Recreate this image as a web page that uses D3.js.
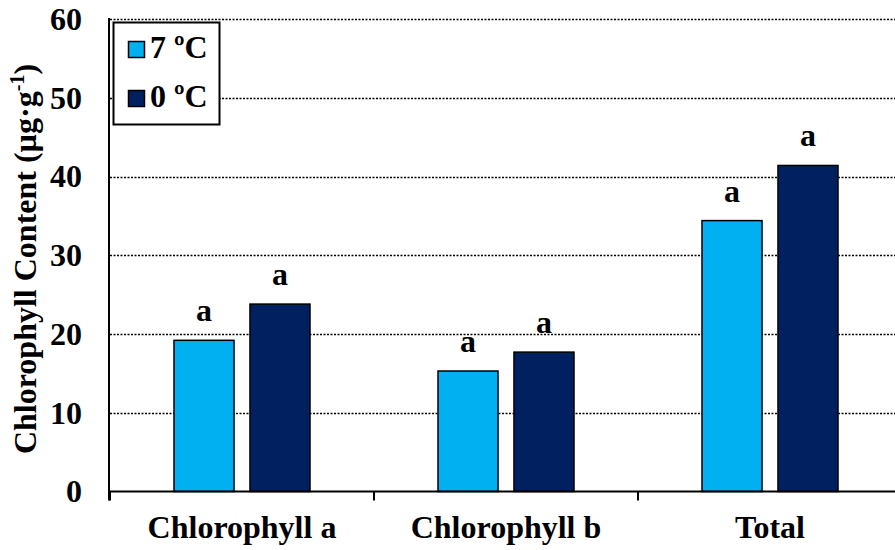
<!DOCTYPE html>
<html>
<head>
<meta charset="utf-8">
<script src="https://cdn.jsdelivr.net/npm/d3@7"></script>
<style>
  body { margin: 0; background: #fff; }
  svg { display: block; }
  text { font-family: "Liberation Serif", "Times New Roman", serif; font-weight: bold; }
</style>
</head>
<body>
<div id="chart"></div>
<script>
var categories = ['Chlorophyll a', 'Chlorophyll b', 'Total'];
var seriesNames = ['7 ºC', '0 ºC'];
var warm = [19.2, 15.3, 34.4];   // 7 ºC
var cold = [23.8, 17.7, 41.4];   // 0 ºC
var letters7 = ['a', 'a', 'a'];
var letters0 = ['a', 'a', 'a'];
var yTicks = [0, 10, 20, 30, 40, 50, 60];
var colors = ['#00B0F0', '#002060'];

var width = 895,
    height = 550;

// plot box (right edge runs past the picture, like the original)
var pLeft = 110, pRight = 902, pTop = 19, pBottom = 491.5;

var svg = d3.select('#chart').append('svg')
    .attr('width', width)
    .attr('height', height);

var x0 = d3.scaleBand()
    .domain(categories)
    .range([pLeft, pRight]);

var bw = x0.bandwidth();
var x1 = d3.scaleBand()
    .domain(seriesNames)
    .range([bw * 0.2424, bw * 0.7576])
    .paddingInner(0.21);

var y = d3.scaleLinear()
    .domain([0, 60])
    .range([pBottom, pTop]);

// dotted gridlines
svg.append('g')
    .selectAll('line')
    .data(yTicks.slice(1))
    .enter().append('line')
    .attr('x1', pLeft)
    .attr('x2', width)
    .attr('y1', function(d) { return Math.round(y(d)) + 0.5; })
    .attr('y2', function(d) { return Math.round(y(d)) + 0.5; })
    .attr('stroke', '#000')
    .attr('stroke-width', 1.6)
    .attr('stroke-dasharray', '2,1.5');

var rows = categories.map(function(c, i) {
  return [
    {cat: c, s: seriesNames[0], v: warm[i], l: letters7[i], c: colors[0]},
    {cat: c, s: seriesNames[1], v: cold[i], l: letters0[i], c: colors[1]}
  ];
});

var g = svg.selectAll('.grp')
    .data(rows)
    .enter().append('g')
    .attr('class', 'grp')
    .attr('transform', function(d) { return 'translate(' + x0(d[0].cat) + ',0)'; });

g.selectAll('rect')
    .data(function(d) { return d; })
    .enter().append('rect')
    .attr('x', function(d) { return x1(d.s); })
    .attr('y', function(d) { return y(d.v); })
    .attr('width', x1.bandwidth())
    .attr('height', function(d) { return y(0) - y(d.v); })
    .attr('fill', function(d) { return d.c; })
    .attr('stroke', '#000')
    .attr('stroke-width', 1.5);

g.selectAll('text')
    .data(function(d) { return d; })
    .enter().append('text')
    .attr('x', function(d) { return x1(d.s) + x1.bandwidth() / 2; })
    .attr('y', function(d) { return y(d.v) - 19; })
    .attr('text-anchor', 'middle')
    .style('font-size', '32px')
    .text(function(d) { return d.l; });

// x axis: baseline + category boundary ticks
var xg = svg.append('g')
    .attr('transform', 'translate(0,' + pBottom + ')');
xg.append('line')
    .attr('x1', pLeft - 1).attr('x2', width)
    .attr('stroke', '#000').attr('stroke-width', 2);
xg.selectAll('.bound')
    .data(categories)
    .enter().append('line')
    .attr('class', 'bound')
    .attr('x1', function(d) { return x0(d); })
    .attr('x2', function(d) { return x0(d); })
    .attr('y1', 0).attr('y2', 9)
    .attr('stroke', '#000').attr('stroke-width', 2);

svg.selectAll('.xlab')
    .data(categories)
    .enter().append('text')
    .attr('class', 'xlab')
    .attr('x', function(d) { return x0(d) + bw / 2; })
    .attr('y', 538)
    .attr('text-anchor', 'middle')
    .style('font-size', '32px')
    .text(function(d) { return d; });

var yAxis = d3.axisLeft(y)
    .tickValues(yTicks)
    .tickSize(0)
    .tickPadding(27);

var yg = svg.append('g')
    .attr('transform', 'translate(' + (pLeft - 1) + ',0)')
    .call(yAxis);
yg.select('.domain').remove();
yg.append('line')
    .attr('y1', pTop - 1).attr('y2', pBottom + 9)
    .attr('stroke', '#000').attr('stroke-width', 2);
yg.selectAll('.tick text')
    .style('font-size', '32px')
    .style('font-family', '"Liberation Serif", "Times New Roman", serif')
    .style('font-weight', 'bold')
    .attr('fill', '#000');

var title = svg.append('text')
    .attr('transform', 'translate(36,259) rotate(-90)')
    .attr('text-anchor', 'middle')
    .style('font-size', '32px');
title.append('tspan').text('Chlorophyll Content (µg·g');
title.append('tspan').attr('dy', -12).style('font-size', '20px').text('-1');
title.append('tspan').attr('dy', 12).text(')');

// legend
var lg = svg.append('g');
lg.append('rect')
    .attr('x', 113.5).attr('y', 22.5)
    .attr('width', 106).attr('height', 102)
    .attr('fill', '#fff')
    .attr('stroke', '#000').attr('stroke-width', 2);

var li = lg.selectAll('.li')
    .data(seriesNames)
    .enter().append('g')
    .attr('class', 'li')
    .attr('transform', function(d, i) { return 'translate(0,' + (i * 49) + ')'; });
li.append('rect')
    .attr('x', 128.5).attr('y', 41.5)
    .attr('width', 16).attr('height', 16)
    .attr('fill', function(d, i) { return colors[i]; })
    .attr('stroke', '#000').attr('stroke-width', 1.5);
li.append('text')
    .attr('x', 150).attr('y', 58)
    .style('font-size', '32px')
    .text(function(d) { return d; });
</script>
</body>
</html>
